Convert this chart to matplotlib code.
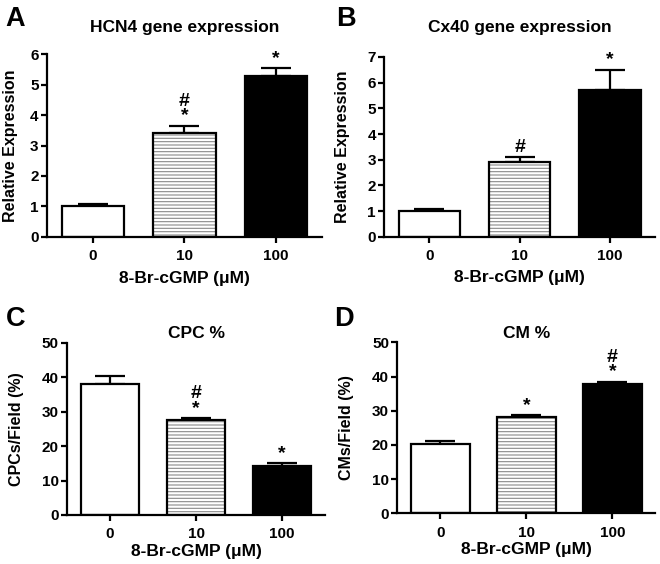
import numpy as np
import matplotlib
matplotlib.use("Agg")
import matplotlib.pyplot as plt

plt.rcParams['font.family'] = ['Liberation Sans', 'DejaVu Sans']
plt.rcParams['font.weight'] = 'bold'
plt.rcParams['hatch.linewidth'] = 0.8

groups = ["0", "10", "100"]

hcn4_mean = [1.0, 3.41, 5.28]
hcn4_sem = [0.07, 0.24, 0.26]
hcn4_marks = ["", "#\n*", "*"]

cx40_mean = [1.02, 2.93, 5.72]
cx40_sem = [0.07, 0.18, 0.78]
cx40_marks = ["", "#", "*"]

cpc_mean = [38.2, 27.6, 14.3]
cpc_sem = [2.2, 0.5, 0.7]
cpc_marks = ["", "#\n*", "*"]

cm_mean = [20.3, 28.1, 37.8]
cm_sem = [0.9, 0.6, 0.7]
cm_marks = ["", "*", "#\n*"]

fill_colors = ["white", "white", "black"]

fig = plt.figure(figsize=(6.6, 5.64), dpi=100)


def panel(rect, mean, sem, marks, ymax, ystep, title, ylabel, letter,
          letter_xy, title_y, ylab_x, xlab_y):
    ax = fig.add_axes(rect)
    x = np.arange(len(groups))
    # hatch in grey, outline in black
    ax.bar(x, mean, width=0.68, color=fill_colors, edgecolor="#8a8a8a",
           linewidth=0, hatch=["", "-----", ""], zorder=2)
    ax.bar(x, mean, width=0.68, color="none", edgecolor="black",
           linewidth=1.6, zorder=3)
    ax.errorbar(x, mean, yerr=[np.zeros(len(sem)), sem], fmt="none",
                ecolor="black", elinewidth=1.6, capsize=11, capthick=1.6,
                zorder=1)
    for xi, m, s, t in zip(x, mean, sem, marks):
        if t:
            ax.annotate(t, (xi, m + s), xytext=(0, 1), textcoords="offset points",
                        ha="center", va="bottom", fontsize=14,
                        fontweight="bold", linespacing=0.8)
    ax.set_xlim(-0.5, 2.5)
    ax.set_ylim(0, ymax)
    ax.set_yticks(np.arange(0, ymax + ystep / 2, ystep))
    ax.set_xticks(x)
    ax.set_xticklabels(groups)
    for sp in ["top", "right"]:
        ax.spines[sp].set_visible(False)
    for sp in ["left", "bottom"]:
        ax.spines[sp].set_linewidth(1.6)
    ax.tick_params(axis="both", width=1.6, length=4, labelsize=11, pad=2)
    ax.tick_params(axis="x", pad=5)
    ax.set_ylabel(ylabel, fontsize=11.5, fontweight="bold", va="center")
    ax.yaxis.set_label_coords(ylab_x, 0.5)
    ax.set_xlabel("8-Br-cGMP (\u03bcM)", fontsize=12.5, fontweight="bold")
    ax.xaxis.set_label_coords(0.5, xlab_y)
    cx = rect[0] + rect[2] / 2
    fig.text(cx, title_y, title, ha="center", va="baseline", fontsize=12.5,
             fontweight="bold")
    fig.text(letter_xy[0], letter_xy[1], letter, ha="left", va="baseline",
             fontsize=19.5, fontweight="bold")
    return ax


panel([0.071, 0.580, 0.417, 0.324], hcn4_mean, hcn4_sem, hcn4_marks, 6, 1,
      "HCN4 gene expression", "Relative Expression", "A",
      (0.008, 1 - 26 / 564), 1 - 32 / 564, -0.131, -0.185)
panel([0.582, 0.580, 0.411, 0.319], cx40_mean, cx40_sem, cx40_marks, 7, 1,
      "Cx40 gene expression", "Relative Expression", "B",
      (0.509, 1 - 26 / 564), 1 - 32 / 564, -0.155, -0.185)
panel([0.1015, 0.087, 0.391, 0.305], cpc_mean, cpc_sem, cpc_marks, 50, 10,
      "CPC %", "CPCs/Field (%)", "C",
      (0.009, 1 - 326 / 564), 1 - 338 / 564, -0.194, -0.17)
panel([0.602, 0.090, 0.391, 0.303], cm_mean, cm_sem, cm_marks, 50, 10,
      "CM %", "CMs/Field (%)", "D",
      (0.506, 1 - 326 / 564), 1 - 338 / 564, -0.198, -0.17)

fig.savefig("out.png", dpi=100)
